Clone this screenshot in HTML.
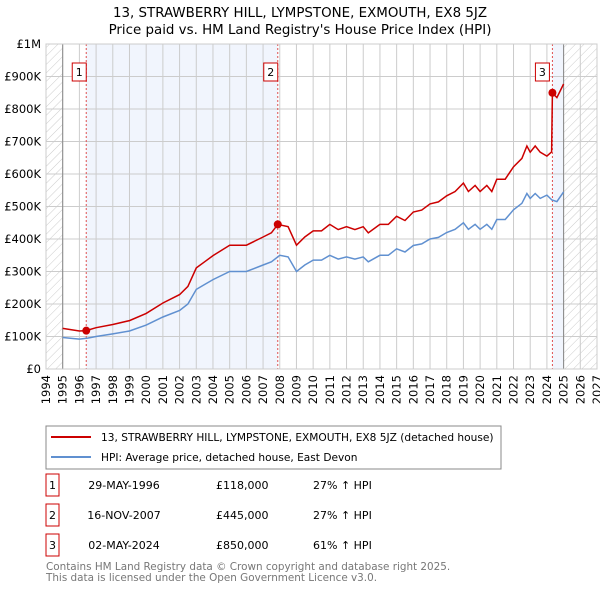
<!DOCTYPE html>
<html><head><meta charset="utf-8"><style>
body{margin:0;background:#fff;font-family:"DejaVu Sans","Liberation Sans",sans-serif;}
#wrap{position:relative;width:600px;height:590px;overflow:hidden;}
</style></head><body>
<div id="wrap">
<svg id="svg" width="600" height="590" style="position:absolute;left:0;top:0" font-family="DejaVu Sans, Liberation Sans, sans-serif">
<defs><pattern id="hatch" width="6" height="6" patternUnits="userSpaceOnUse" patternTransform="rotate(45)"><line x1="0" y1="0" x2="0" y2="6" stroke="#ccc" stroke-width="1"/></pattern></defs>
<text x="300" y="17" text-anchor="middle" font-size="13.4">13, STRAWBERRY HILL, LYMPSTONE, EXMOUTH, EX8 5JZ</text>
<text x="300" y="34" text-anchor="middle" font-size="13.4">Price paid vs. HM Land Registry's House Price Index (HPI)</text>
<g id="plot"></g>
<rect x="46" y="426" width="455" height="43" fill="#fff" stroke="#888"/>
<line x1="51" y1="437" x2="91" y2="437" stroke="#cc0000" stroke-width="2"/>
<text x="101" y="441" font-size="10.6">13, STRAWBERRY HILL, LYMPSTONE, EXMOUTH, EX8 5JZ (detached house)</text>
<line x1="51" y1="457" x2="91" y2="457" stroke="#6090d0" stroke-width="2"/>
<text x="101" y="461" font-size="10.6">HPI: Average price, detached house, East Devon</text>
<g id="table" font-size="11"></g>
<text x="46" y="570" font-size="10.4" fill="#777">Contains HM Land Registry data © Crown copyright and database right 2025.</text>
<text x="46" y="581" font-size="10.4" fill="#777">This data is licensed under the Open Government Licence v3.0.</text>
</svg>
</div>
<script>
const hpiYears=[1995,1996,1996.5,1997,1998,1999,2000,2001,2002,2002.5,2003,2003.5,2004,2005,2006,2007,2007.5,2008,2008.5,2009,2009.5,2010,2010.5,2011,2011.5,2012,2012.5,2013,2013.3,2014,2014.5,2015,2015.5,2016,2016.5,2017,2017.5,2018,2018.5,2019,2019.3,2019.7,2020,2020.4,2020.7,2021,2021.5,2022,2022.5,2022.8,2023,2023.3,2023.6,2024,2024.3,2024.6,2025];
const hpiValues=[97,92,95,100,108,117,135,160,180,200,245,260,275,300,300,320,330,350,345,300,320,335,335,350,338,345,338,345,330,350,350,370,360,380,385,400,405,420,430,450,430,445,430,445,430,460,460,490,510,540,525,540,525,535,520,515,545];
const redYears=[1995,1996,1996.4,1997,1998,1999,2000,2001,2002,2002.5,2003,2003.5,2004,2005,2006,2007,2007.5,2007.88,2008.5,2009,2009.5,2010,2010.5,2011,2011.5,2012,2012.5,2013,2013.3,2014,2014.5,2015,2015.5,2016,2016.5,2017,2017.5,2018,2018.5,2019,2019.3,2019.7,2020,2020.4,2020.7,2021,2021.5,2022,2022.5,2022.8,2023,2023.3,2023.6,2024,2024.28,2024.33,2024.6,2025];
const redValues=[125,117,118,127,137,149,171,203,229,254,311,330,349,381,381,406,419,445,438,381,406,425,425,445,429,438,429,438,419,445,445,470,457,483,489,508,514,533,546,572,546,565,546,565,546,584,584,622,648,686,667,686,667,655,668,850,835,877];
const saleYears=[1996.41,2007.88,2024.33];
const saleValues=[118,445,850];
const saleLabels=["1","2","3"];
const saleDates=["29-MAY-1996","16-NOV-2007","02-MAY-2024"];
const salePrices=["£118,000","£445,000","£850,000"];
const saleHpi=["27% ↑ HPI","27% ↑ HPI","61% ↑ HPI"];
const yTicks=[0,100,200,300,400,500,600,700,800,900,1000];
const yTickLabels=["£0","£100K","£200K","£300K","£400K","£500K","£600K","£700K","£800K","£900K","£1M"];
const xTicks=[];for(let y=1994;y<=2027;y++)xTicks.push(y);

const L=46,R=597,T=44,B=369,X0=1994,X1=2027;
const xs=v=>L+(v-X0)/(X1-X0)*(R-L);
const ys=v=>B-v/1000*(B-T);
const NS="http://www.w3.org/2000/svg";
const g=document.getElementById('plot');
function mk(tag,at,parent){const e=document.createElementNS(NS,tag);for(const k in at)e.setAttribute(k,at[k]);(parent||g).appendChild(e);return e;}
let e;
e=mk('rect',{x:L,y:T,width:R-L,height:B-T,fill:'#fff'});


e=mk('rect',{x:L,y:T,width:xs(1995)-L,height:B-T,fill:'url(#hatch)'});


e=mk('rect',{x:xs(2025),y:T,width:R-xs(2025),height:B-T,fill:'url(#hatch)'});


e=mk('rect',{x:xs(saleYears[0]),y:T,width:xs(saleYears[1])-xs(saleYears[0]),height:B-T,fill:'#eef3fc',opacity:0.8});


e=mk('rect',{x:xs(saleYears[2]),y:T,width:xs(2025)-xs(saleYears[2]),height:B-T,fill:'#eef3fc',opacity:0.8});


xTicks.forEach(y=>{
 e=mk('line',{x1:xs(y),x2:xs(y),y1:T,y2:B,stroke:'#ccc','stroke-width':1});
 
 
 e=mk('text',{x:0,y:0,'font-size':11.5,'text-anchor':'end',transform:`translate(${xs(y)+4},${B+6}) rotate(-90)`});
 e.textContent=y;
 
 
});
yTicks.forEach((v,i)=>{
 e=mk('line',{x1:L,x2:R,y1:ys(v),y2:ys(v),stroke:'#ccc','stroke-width':1});
 
 
 e=mk('text',{x:L-5,y:ys(v)+4,'font-size':11.5,'text-anchor':'end'});
 e.textContent=yTickLabels[i];
 
 
});
[1995,2025].forEach(y=>{e=mk('line',{x1:xs(y),x2:xs(y),y1:T,y2:B,stroke:'#888','stroke-width':1});
 
 });
saleYears.forEach((y,i)=>{
 e=mk('line',{x1:xs(y),x2:xs(y),y1:T,y2:B,stroke:'#e05050','stroke-width':1,'stroke-dasharray':'2,2'});
 
 
});
const pts=(xa,va)=>xa.map((x,i)=>xs(x).toFixed(1)+','+ys(va[i]).toFixed(1)).join(' ');
e=mk('polyline',{points:pts(hpiYears,hpiValues),fill:'none',stroke:'#6090d0','stroke-width':1.5});


e=mk('polyline',{points:pts(redYears,redValues),fill:'none',stroke:'#cc0000','stroke-width':1.5});


saleYears.forEach((y,i)=>{
 e=mk('circle',{cx:xs(y),cy:ys(saleValues[i]),r:4,fill:'#cc0000'});
 
 
 const bx=xs(y)-(i==2?10:7)-7;
 e=mk('rect',{x:bx,y:63,width:14,height:18,fill:'#fff',stroke:'#cc0000'});
 
 
 e=mk('text',{x:bx+7,y:76,'font-size':11,'text-anchor':'middle'});
 e.textContent=saleLabels[i];
 
 
});
e=mk('rect',{x:L,y:T,width:R-L,height:B-T,fill:'none',stroke:'#ccc'});


const tb=document.getElementById('table');
saleLabels.forEach((l,i)=>{
 const yy=487+i*30;
 e=mk('rect',{x:46,y:yy-13,width:13,height:22,fill:'#fff',stroke:'#cc0000'},tb);
 
 
 e=mk('text',{x:52.5,y:yy+2,'text-anchor':'middle'},tb);e.textContent=l;
 
 
 e=mk('text',{x:124,y:yy+2,'text-anchor':'middle'},tb);e.textContent=saleDates[i];
 
 
 e=mk('text',{x:216,y:yy+2},tb);e.textContent=salePrices[i];
 
 
 e=mk('text',{x:313,y:yy+2},tb);e.textContent=saleHpi[i];
 
 
});
</script>
</body></html>
